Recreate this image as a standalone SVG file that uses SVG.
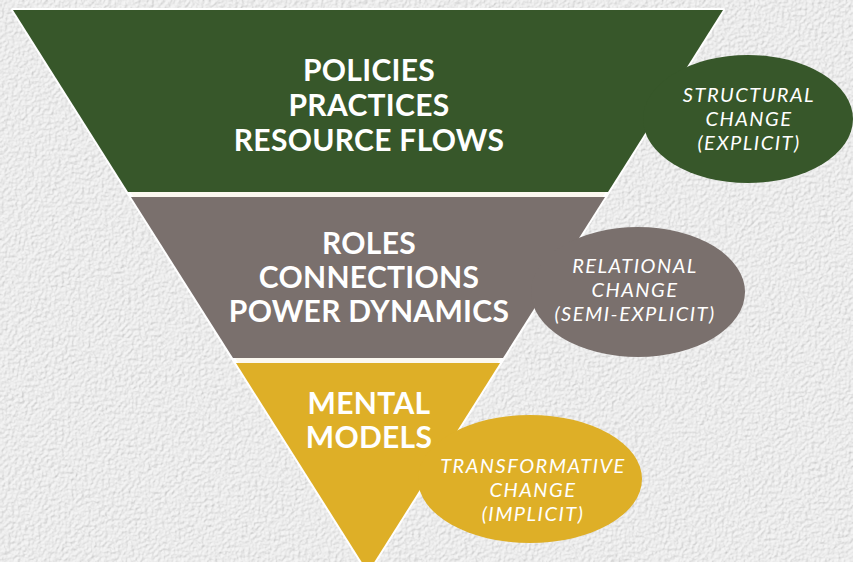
<svg xmlns="http://www.w3.org/2000/svg" width="853" height="562" viewBox="0 0 853 562">
  <defs>
    <filter id="tex" x="0" y="0" width="100%" height="100%" color-interpolation-filters="sRGB">
      <feTurbulence type="fractalNoise" baseFrequency="0.3" numOctaves="4" seed="7" result="n"/>
      <feDiffuseLighting in="n" lighting-color="#ffffff" surfaceScale="0.9" result="l">
        <feDistantLight azimuth="225" elevation="70"/>
      </feDiffuseLighting>
    </filter>
    <style>
      .main { font-family: Lato, "Liberation Sans", sans-serif; font-weight: 700; font-size: 30px; letter-spacing: 0.3px; fill: #ffffff; text-anchor: middle; }
      .side { font-family: Lato, "Liberation Sans", sans-serif; font-style: italic; font-weight: 400; font-size: 20px; letter-spacing: 1.5px; fill: #ffffff; text-anchor: middle; }
      .green { fill: #37572a; }
      .gray { fill: #7a706d; }
      .yellow { fill: #deaf27; }
    </style>
  </defs>
  <rect x="0" y="0" width="853" height="562" fill="#e8e8e8"/>
  <rect x="0" y="0" width="853" height="562" filter="url(#tex)" opacity="0.6"/>

  <polygon points="13,10 723,10 368,572" fill="#fbf8f0" stroke="#ffffff" stroke-width="4" stroke-linejoin="round"/>

  <g id="structural">
    <polygon class="green" points="13,10 723,10 608,192 128,192"/>
    <ellipse class="green" cx="748" cy="119" rx="105" ry="64"/>
    <text class="main" x="369" y="81">POLICIES</text>
    <text class="main" x="369" y="116">PRACTICES</text>
    <text class="main" x="369" y="151">RESOURCE FLOWS</text>
    <text class="side" x="749" y="102">STRUCTURAL</text>
    <text class="side" x="749" y="126">CHANGE</text>
    <text class="side" x="749" y="150">(EXPLICIT)</text>
  </g>

  <g id="relational">
    <polygon class="gray" points="131,197 605,197 503,358 233,358"/>
    <ellipse class="gray" cx="638" cy="292" rx="107" ry="65"/>
    <text class="main" x="369" y="254">ROLES</text>
    <text class="main" x="369" y="288">CONNECTIONS</text>
    <text class="main" x="369" y="322">POWER DYNAMICS</text>
    <text class="side" x="635" y="273">RELATIONAL</text>
    <text class="side" x="635" y="297">CHANGE</text>
    <text class="side" x="635" y="321">(SEMI-EXPLICIT)</text>
  </g>

  <g id="transformative">
    <polygon class="yellow" points="236,363 500,363 368,572"/>
    <ellipse class="yellow" cx="530" cy="479" rx="112" ry="64"/>
    <text class="main" x="369" y="414">MENTAL</text>
    <text class="main" x="369" y="448">MODELS</text>
    <text class="side" x="533" y="473">TRANSFORMATIVE</text>
    <text class="side" x="533" y="497">CHANGE</text>
    <text class="side" x="533" y="521">(IMPLICIT)</text>
  </g>

  <g id="connectors"/>
</svg>
